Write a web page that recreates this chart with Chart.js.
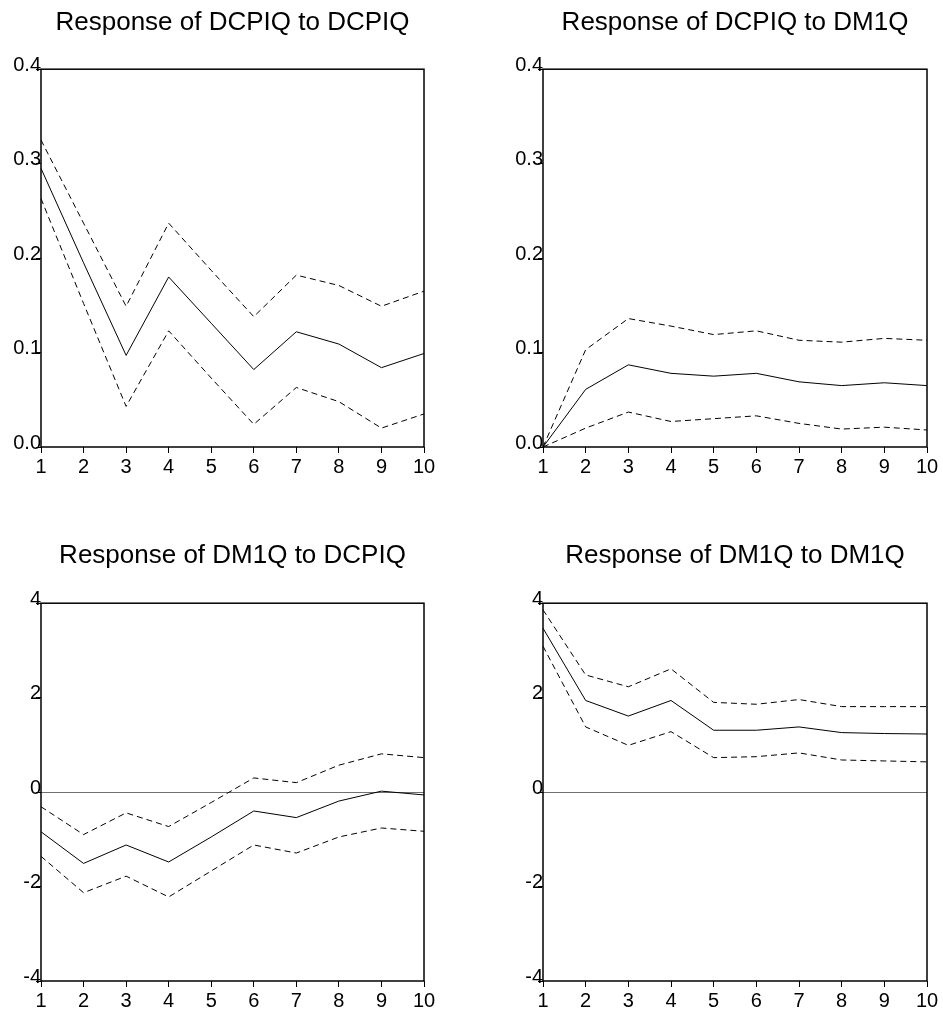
<!DOCTYPE html>
<html>
<head>
<meta charset="utf-8">
<title>Impulse responses</title>
<script src="https://cdn.jsdelivr.net/npm/chart.js@4/dist/chart.umd.min.js"></script>
<style>
    html, body { margin: 0; padding: 0; background: #fff; }
    body { width: 943px; height: 1013px; position: relative; overflow: hidden; }
    canvas { position: absolute; }
</style>
</head>
<body>
<canvas id="c11" width="471" height="500" style="left:0;top:0"></canvas>
<canvas id="c12" width="472" height="500" style="left:471px;top:0"></canvas>
<canvas id="c21" width="471" height="513" style="left:0;top:500px"></canvas>
<canvas id="c22" width="472" height="513" style="left:471px;top:500px"></canvas>
<script>
const horizons = ["1", "2", "3", "4", "5", "6", "7", "8", "9", "10"];

// Response of DCPIQ to DCPIQ
const resp11 = [0.295, 0.195, 0.097, 0.180, 0.131, 0.082, 0.122, 0.109, 0.084, 0.099];
const upper11 = [0.325, 0.237, 0.149, 0.237, 0.187, 0.138, 0.182, 0.171, 0.149, 0.165];
const lower11 = [0.263, 0.152, 0.043, 0.123, 0.073, 0.024, 0.063, 0.048, 0.020, 0.035];

// Response of DCPIQ to DM1Q
const resp12 = [0.000, 0.061, 0.087, 0.078, 0.075, 0.078, 0.069, 0.065, 0.068, 0.065];
const upper12 = [0.000, 0.103, 0.136, 0.128, 0.119, 0.123, 0.113, 0.111, 0.115, 0.113];
const lower12 = [0.000, 0.020, 0.037, 0.027, 0.030, 0.033, 0.025, 0.019, 0.021, 0.018];

// Response of DM1Q to DCPIQ
const resp21 = [-0.84, -1.51, -1.12, -1.48, -0.95, -0.40, -0.54, -0.19, 0.02, -0.06];
const upper21 = [-0.31, -0.90, -0.44, -0.73, -0.22, 0.30, 0.20, 0.57, 0.81, 0.73];
const lower21 = [-1.36, -2.13, -1.78, -2.22, -1.67, -1.12, -1.29, -0.95, -0.76, -0.83];

// Response of DM1Q to DM1Q
const resp22 = [3.47, 1.94, 1.61, 1.94, 1.31, 1.31, 1.38, 1.26, 1.24, 1.23];
const upper22 = [3.86, 2.48, 2.23, 2.61, 1.90, 1.86, 1.96, 1.81, 1.81, 1.81];
const lower22 = [3.09, 1.38, 0.99, 1.28, 0.73, 0.75, 0.83, 0.68, 0.66, 0.64];

const FONT = "'Liberation Sans', Arial, sans-serif";

// box around the plot area
const framePlugin = {
    id: "frame",
    afterDraw(chart) {
        const a = chart.chartArea;
        const ctx = chart.ctx;
        ctx.save();
        ctx.strokeStyle = "#000";
        ctx.lineWidth = 1.5;
        ctx.strokeRect(a.left, a.top, a.right - a.left, a.bottom - a.top);
        ctx.restore();
    }
};

function makePanel(id, title, resp, upper, lower, cfg) {
    const line = (data, dash) => ({
        data,
        borderColor: "#000",
        borderWidth: 1,
        borderDash: dash,
        pointRadius: 0,
        tension: 0,
        fill: false
    });

    return new Chart(document.getElementById(id), {
        type: "line",
        data: {
            labels: horizons,
            datasets: [line(resp, []), line(upper, [6, 4]), line(lower, [6, 4])]
        },
        plugins: [framePlugin],
        options: {
            responsive: false,
            animation: false,
            events: [],
            layout: { padding: { left: 0, right: cfg.padRight, top: 0, bottom: cfg.padBottom } },
            plugins: {
                legend: { display: false },
                tooltip: { enabled: false },
                title: {
                    display: true,
                    text: title,
                    fullSize: false,
                    color: "#000",
                    font: { family: FONT, size: 26, weight: "normal", lineHeight: 1.2 },
                    padding: { top: cfg.titleTop, bottom: cfg.titleBottom }
                }
            },
            scales: {
                x: {
                    type: "category",
                    offset: false,
                    border: { display: false },
                    grid: { drawOnChartArea: false, drawTicks: true, tickLength: 6, tickColor: "#000" },
                    ticks: { color: "#000", font: { family: FONT, size: 20 }, padding: 2, maxRotation: 0, autoSkip: false },
                    afterFit: scale => { scale.height = cfg.xHeight; }
                },
                y: {
                    min: cfg.min,
                    max: cfg.max,
                    border: { display: false },
                    grid: {
                        drawTicks: true,
                        tickLength: 5,
                        tickColor: "#000",
                        lineWidth: 1,
                        color: c => (cfg.zeroLine && c.tick && c.tick.value === 0) ? "#707070" : "rgba(0,0,0,0)"
                    },
                    ticks: {
                        stepSize: cfg.step,
                        color: "#000",
                        font: { family: FONT, size: 20 },
                        padding: -5,
                        labelOffset: -4,
                        callback: v => cfg.decimals ? Number(v).toFixed(cfg.decimals) : String(v)
                    },
                    afterFit: scale => { scale.width = cfg.yWidth; }
                }
            }
        }
    });
}

const topLeft = { padRight: 47, padBottom: 13, xHeight: 40, titleTop: 7, titleBottom: 31, yWidth: 41, min: 0, max: 0.4, step: 0.1, decimals: 1, zeroLine: false };
const topRight = Object.assign({}, topLeft, { padRight: 16, yWidth: 72 });
const botLeft = { padRight: 47, padBottom: 0, xHeight: 32, titleTop: 40, titleBottom: 32, yWidth: 41, min: -4, max: 4, step: 2, decimals: 0, zeroLine: true };
const botRight = Object.assign({}, botLeft, { padRight: 16, yWidth: 72 });

makePanel("c11", "Response of DCPIQ to DCPIQ", resp11, upper11, lower11, topLeft);
makePanel("c12", "Response of DCPIQ to DM1Q", resp12, upper12, lower12, topRight);
makePanel("c21", "Response of DM1Q to DCPIQ", resp21, upper21, lower21, botLeft);
makePanel("c22", "Response of DM1Q to DM1Q", resp22, upper22, lower22, botRight);
</script>
</body>
</html>
